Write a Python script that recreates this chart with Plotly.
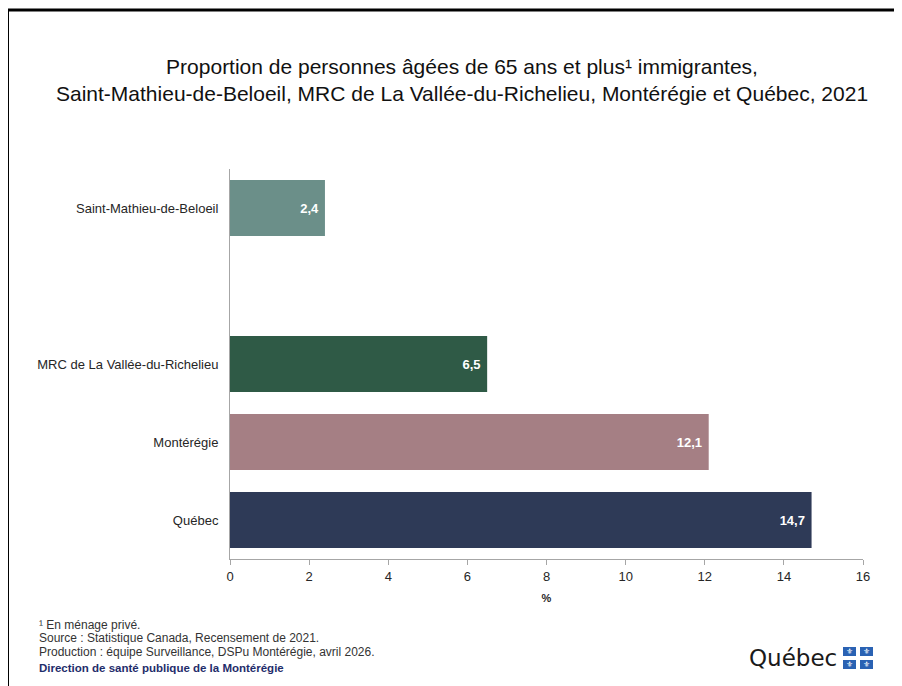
import plotly.graph_objects as go

categories = ["Saint-Mathieu-de-Beloeil", " ", "MRC de La Vallée-du-Richelieu", "Montérégie", "Québec"]
values = [2.4, None, 6.5, 12.1, 14.7]
labels = ["2,4", "", "6,5", "12,1", "14,7"]
colors = ["#6b8f89", "#ffffff", "#2f5a46", "#a57f84", "#2e3a57"]
x_ticks = [0, 2, 4, 6, 8, 10, 12, 14, 16]

OFF = 8  # page body margin
W, H = 902 - OFF, 686 - OFF
L, R, T, B = 230 - OFF, 863 - OFF, 169 - OFF, 559 - OFF

def px(x):  # x in page pixels
    return (x - OFF - L) / (R - L)

def py(y):  # y in page pixels
    return (B - (y - OFF)) / (B - T)

fig = go.Figure()
fig.add_trace(go.Bar(
    y=categories, x=values, orientation="h",
    marker=dict(color=colors, line=dict(width=0)),
    text=["<b>" + t + "</b>\u00a0" if t else t for t in labels],
    textposition="inside", insidetextanchor="end",
    textfont=dict(color="white", size=13, family="Liberation Sans"),
    cliponaxis=False, hoverinfo="skip",
))

fig.update_layout(
    width=W, height=H,
    margin=dict(l=L, r=W - R, t=T, b=H - B, pad=0),
    paper_bgcolor="white", plot_bgcolor="white",
    showlegend=False, bargap=0.28,
    font=dict(family="Liberation Sans", color="#333333"),
)
fig.update_yaxes(
    categoryorder="array", categoryarray=categories[::-1],
    showline=True, linecolor="#a6a6a6", linewidth=1,
    showgrid=False, ticks="", ticklabelstandoff=8,
    tickfont=dict(size=13, color="#262626"), zeroline=False,
)
fig.update_xaxes(
    range=[0, 16], tickvals=x_ticks, ticktext=[str(v) for v in x_ticks],
    showline=True, linecolor="#a6a6a6", linewidth=1,
    ticks="outside", ticklen=5, tickcolor="#a6a6a6",
    showgrid=False, zeroline=False,
    tickfont=dict(size=13, color="#262626"),
    title=dict(text="<b>%</b>", font=dict(size=11, color="#262626"), standoff=11),
)

# border
fig.add_shape(type="rect", xref="paper", yref="paper",
              x0=px(7.5), x1=px(910), y0=py(700), y1=py(10),
              line=dict(color="black", width=3), layer="above")

# title
fig.add_annotation(xref="paper", yref="paper", x=px(462), y=py(80),
                   xanchor="center", yanchor="middle", showarrow=False,
                   text="Proportion de personnes âgées de 65 ans et plus¹ immigrantes,<br>"
                        "Saint-Mathieu-de-Beloeil, MRC de La Vallée-du-Richelieu, Montérégie et Québec, 2021",
                   font=dict(family="Liberation Sans", size=21, color="#111111"),
                   align="center")

# footnotes
foot = [("¹ En ménage privé.", 625, "#333333"),
        ("Source : Statistique Canada, Recensement de 2021.", 638, "#333333"),
        ("Production : équipe Surveillance, DSPu Montérégie, avril 2026.", 652, "#333333"),
        ("<b>Direction de santé publique de la Montérégie</b>", 668, "#1f2d6b")]
for txt, yy, col in foot:
    fig.add_annotation(xref="paper", yref="paper", x=px(37), y=py(yy),
                       xanchor="left", yanchor="middle", showarrow=False,
                       text=txt, font=dict(size=12 if "<b>" not in txt else 11.5, color=col,
                                           family="Liberation Sans"))

# Québec logo
fig.add_annotation(xref="paper", yref="paper", x=px(839), y=py(658),
                   xanchor="right", yanchor="middle", showarrow=False,
                   text="Québec", font=dict(size=23, color="#1a1a1a", family="DejaVu Sans"))
for (x0, y0) in [(843, 647), (860, 647), (843, 660), (860, 660)]:
    fig.add_shape(type="rect", xref="paper", yref="paper",
                  x0=px(x0), x1=px(x0 + 13), y0=py(y0 + 9), y1=py(y0),
                  fillcolor="#2a62b3", line=dict(width=0), layer="above")
    fig.add_annotation(xref="paper", yref="paper", x=px(x0 + 6.5), y=py(y0 + 4.5),
                       xanchor="center", yanchor="middle", showarrow=False,
                       text="⚜", font=dict(size=8, color="white", family="DejaVu Sans"))

fig.write_html("out.html")
